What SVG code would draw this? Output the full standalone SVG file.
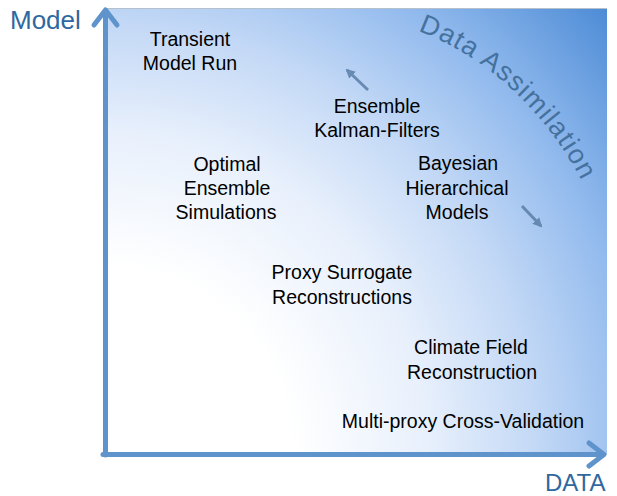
<svg xmlns="http://www.w3.org/2000/svg" width="617" height="496" viewBox="0 0 617 496">
<style>
  .lbl { font-family: "Liberation Sans", Arial, sans-serif; font-size: 19.5px; fill: #000; text-anchor: middle; }
  .axlbl { font-family: "Liberation Sans", Arial, sans-serif; fill: #2f68a0; }
  .da { font-family: "Liberation Sans", Arial, sans-serif; font-size: 27px; fill: #44719d; letter-spacing: 1.2px; }
  .axis { stroke: #5f93cc; stroke-width: 5; fill: none; stroke-linecap: round; stroke-linejoin: round; }
  .small { stroke: #5b7fa8; stroke-width: 3; fill: none; opacity: 0.85; }
</style>
<defs>
  <radialGradient id="bg" gradientUnits="userSpaceOnUse" cx="105" cy="455" r="670">
    <stop offset="0" stop-color="#ffffff"/>
    <stop offset="0.28" stop-color="#ffffff"/>
    <stop offset="0.48" stop-color="#e8f0fc"/>
    <stop offset="0.64" stop-color="#c4d9f6"/>
    <stop offset="0.8" stop-color="#93bbee"/>
    <stop offset="1" stop-color="#4e8cd6"/>
  </radialGradient>
  <marker id="ah" viewBox="0 0 10 10" refX="8" refY="5" markerWidth="3.2" markerHeight="3.2" orient="auto" markerUnits="strokeWidth">
    <path d="M0,0 L10,5 L0,10 z" fill="#5b7fa8"/>
  </marker>
  <path id="arc" d="M 418 31 C 472 50, 545 102, 588 194"/>
</defs>
<rect x="105" y="8" width="502" height="447" fill="url(#bg)"/>
<line x1="105" y1="8.5" x2="607" y2="8.5" stroke="#b4c0cc" stroke-width="1"/>
<g id="axes">
  <path class="axis" d="M105.5 455 L105.5 11"/>
  <path class="axis" d="M94 25 L105.5 10 L117 25"/>
  <path class="axis" d="M103 454.5 L602 454.5"/>
  <path class="axis" d="M589 443 L604 454.5 L589 466"/>
</g>
<text class="axlbl" x="10" y="29" font-size="26">Model</text>
<text class="axlbl" x="545" y="491" font-size="24">DATA</text>
<text class="da"><textPath href="#arc">Data Assimilation</textPath></text>
<g id="connectors">
  <line class="small" x1="368" y1="90" x2="347" y2="70" marker-end="url(#ah)"/>
  <line class="small" x1="522" y1="206" x2="541" y2="226" marker-end="url(#ah)"/>
</g>
<g id="transient"><text class="lbl" x="190" y="46">Transient</text><text class="lbl" x="190" y="70">Model Run</text></g>
<g id="enkf"><text class="lbl" x="377" y="113">Ensemble</text><text class="lbl" x="377" y="137">Kalman-Filters</text></g>
<g id="optimal"><text class="lbl" x="227" y="171">Optimal</text><text class="lbl" x="227" y="195">Ensemble</text><text class="lbl" x="226" y="219">Simulations</text></g>
<g id="bayesian"><text class="lbl" x="458" y="170">Bayesian</text><text class="lbl" x="457" y="195">Hierarchical</text><text class="lbl" x="457" y="219">Models</text></g>
<g id="proxy"><text class="lbl" x="342" y="279">Proxy Surrogate</text><text class="lbl" x="342" y="304">Reconstructions</text></g>
<g id="cfr"><text class="lbl" x="471" y="354">Climate Field</text><text class="lbl" x="472" y="379">Reconstruction</text></g>
<g id="multiproxy"><text class="lbl" x="463" y="428">Multi-proxy Cross-Validation</text></g>
</svg>
